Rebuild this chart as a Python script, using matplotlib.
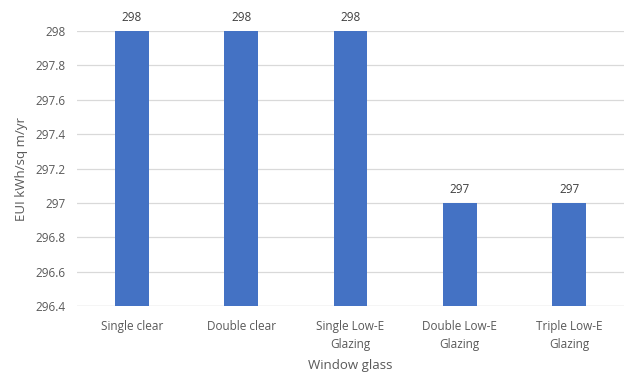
import matplotlib
matplotlib.use("Agg")
import matplotlib.pyplot as plt

categories = ["Single clear", "Double clear", "Single Low-E\nGlazing", "Double Low-E\nGlazing", "Triple Low-E\nGlazing"]
eui = [298, 298, 298, 297, 297]
yticks = [296.4, 296.6, 296.8, 297, 297.2, 297.4, 297.6, 297.8, 298]
ytick_labels = ["296.4", "296.6", "296.8", "297", "297.2", "297.4", "297.6", "297.8", "298"]

plt.rcParams['font.family'] = ['Open Sans', 'DejaVu Sans']
grey = "#595959"

fig = plt.figure(figsize=(6.27, 3.72), dpi=100)
ax = fig.add_axes([0.123, 0.177, 0.872, 0.74])

x = range(len(categories))
ax.bar(x, [v - 296.4 for v in eui], bottom=296.4, width=0.31, color="#4472C4", zorder=3)
for xi, v in zip(x, eui):
    ax.text(xi, v + 0.04, f"{v}", ha="center", va="bottom", fontsize=8.5, color="#404040")

ax.set_xlim(-0.5, len(categories) - 0.5)
ax.set_ylim(296.4, 298)
ax.set_yticks(yticks)
ax.set_yticklabels(ytick_labels)
ax.set_xticks(list(x))
ax.set_xticklabels(categories, linespacing=1.5)
ax.tick_params(axis="both", length=0, labelsize=8.5, labelcolor=grey)
ax.tick_params(axis="x", pad=10)
ax.tick_params(axis="y", pad=8)
ax.grid(axis="y", color="#D9D9D9", linewidth=0.9, zorder=0)
for s in ax.spines.values():
    s.set_visible(False)
ax.axhline(296.4, color="#D9D9D9", linewidth=0.9, zorder=1)

ax.set_xlabel("Window glass", fontsize=9.5, color=grey, labelpad=6)
ax.set_ylabel("EUI kWh/sq m/yr", fontsize=9.5, color=grey, labelpad=6)

fig.savefig("out.png", dpi=100, facecolor="white")
